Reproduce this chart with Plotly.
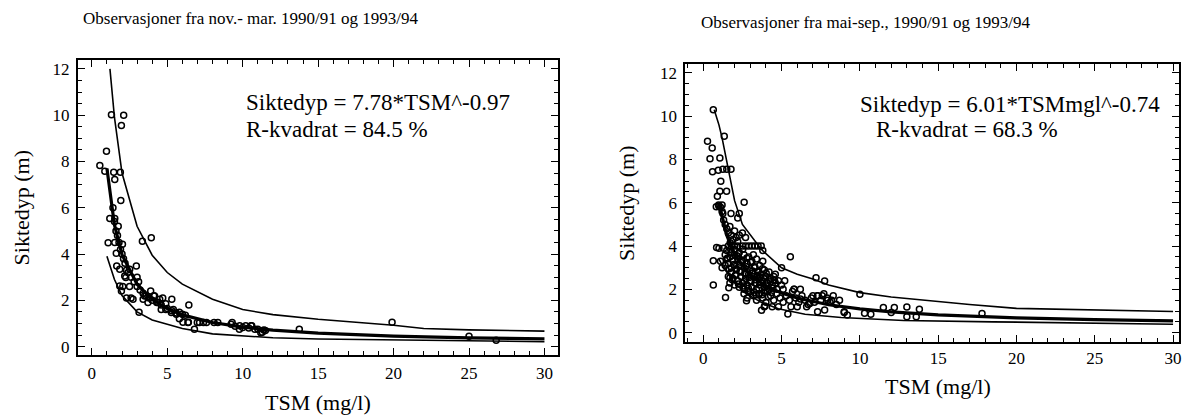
import plotly.graph_objects as go

W, H = 1188, 416

# ---------------- Left panel (nov.-mar.) ----------------
left_x = [0.53, 0.97, 0.86, 1.30, 2.11, 1.96, 1.45, 1.52, 1.89, 1.92, 1.19, 1.52, 1.08, 1.52,
          2.03, 1.62, 1.65, 1.85, 2.18, 2.51, 2.95, 3.0, 1.85, 2.05, 2.5, 1.96, 2.3, 2.6, 3.13,
          3.35, 3.94, 3.1, 3.5, 3.9, 4.1, 4.37, 4.7, 4.9, 5.3, 5.8, 6.43, 4.6, 4.9, 5.4, 5.8,
          6.04, 6.4, 6.8, 7.14, 7.6, 8.35, 9.3, 9.8, 10.2, 10.6, 10.8, 11.3, 11.5, 2.25, 2.73,
          3.4, 3.72, 4.16, 4.5, 5.27, 5.6, 6.37, 6.99, 7.4, 8.1, 9.23, 9.78, 10.55, 11.0, 11.2,
          11.4, 13.75, 19.9, 25.0, 26.8,
          1.4, 1.5, 1.6, 1.7, 1.75, 1.8, 1.9, 2.0, 2.1, 2.2, 2.3, 2.4, 2.6, 2.8, 3.0, 3.2, 3.4,
          3.6, 3.8, 4.0, 4.3, 4.6, 5.0, 5.3, 5.6, 6.0, 6.2, 9.5, 10.0, 10.4]
left_y = [7.82, 8.44, 7.58, 10.02, 10.0, 9.55, 7.53, 7.22, 7.53, 6.31, 5.54, 5.54, 4.49, 4.5,
          4.42, 4.03, 3.48, 3.34, 3.05, 3.34, 3.48, 3.0, 2.62, 2.6, 2.6, 2.4, 2.1, 2.1, 1.48,
          4.55, 4.7, 2.8, 2.19, 2.4, 2.2, 1.92, 2.1, 1.85, 2.05, 1.48, 1.8, 1.6, 1.6, 1.6, 1.2,
          1.05, 1.05, 0.75, 1.04, 1.04, 1.04, 1.04, 0.9, 0.9, 0.9, 0.75, 0.62, 0.7, 2.98, 2.05,
          2.05, 1.9, 2.19, 2.05, 1.47, 1.4, 1.04, 1.04, 1.04, 1.04, 0.97, 0.75, 0.9, 0.75, 0.6,
          0.72, 0.75, 1.05, 0.45, 0.27,
          6.0, 5.4, 5.0, 4.8, 5.2, 4.5, 4.2, 4.0, 3.8, 3.6, 3.3, 3.2, 3.0, 2.8, 2.6, 2.45, 2.3,
          2.2, 2.1, 2.0, 1.9, 1.8, 1.65, 1.55, 1.45, 1.4, 1.35, 0.88, 0.82, 0.8]

left_fit_x = [1.0, 1.5, 2.0, 3.0, 4.0, 5.0, 6.0, 8.0, 10.0, 12.0, 15.0, 20.0, 25.0, 30.0]
left_fit_y = [7.7, 5.26, 3.97, 2.69, 2.03, 1.64, 1.37, 1.04, 0.84, 0.71, 0.58, 0.45, 0.38, 0.33]

left_up_x = [1.2, 1.5, 2.0, 3.0, 4.0, 5.0, 6.0, 8.0, 10.0, 12.0, 15.0, 18.0, 20.0, 22.0, 25.0, 30.0]
left_up_y = [12.0, 9.9, 7.5, 5.2, 3.95, 3.2, 2.7, 2.05, 1.6, 1.38, 1.18, 1.02, 0.92, 0.78, 0.72, 0.67]

left_lo_x = [1.0, 1.5, 2.0, 3.0, 4.0, 5.0, 6.0, 8.0, 10.0, 12.0, 15.0, 20.0, 25.0, 30.0]
left_lo_y = [3.9, 2.9, 2.2, 1.5, 1.15, 0.95, 0.78, 0.55, 0.45, 0.38, 0.33, 0.28, 0.24, 0.21]

# ---------------- Right panel (mai-sep.) ----------------
right_x = [0.64, 0.27, 0.57, 0.43, 1.06, 1.34, 0.59, 0.96, 1.25, 1.5, 1.77, 1.12, 1.06, 1.49,
           0.9, 0.98, 1.2, 1.77, 2.3, 2.61, 2.2, 0.83, 0.85, 0.64, 0.64, 1.42, 1.7, 5.56, 5.0,
           7.2, 7.75, 10.0, 9.0, 9.2, 10.3, 10.7, 11.5, 12.2, 12.0, 13.0, 13.0, 13.8, 13.6, 17.8,
           2.76, 3.72, 3.93, 4.55, 5.4, 5.8, 6.2, 7.0, 7.3, 7.6, 6.8, 7.3, 7.75, 7.95, 8.2, 9.0,
           1.63,
           1.6, 1.8, 2.0, 2.2, 2.5, 2.7, 2.9, 3.1, 3.3, 3.5, 3.7, 3.8,
           1.3, 1.4, 1.5, 1.6, 1.7, 1.8, 1.9, 2.0, 2.1, 2.3, 2.5, 2.7, 2.2, 1.2, 1.1, 1.0, 1.25,
           1.3, 1.4, 1.5, 1.5, 1.6, 1.7, 1.8, 1.8, 1.9, 2.0, 2.0, 2.1, 2.2, 2.3, 2.3, 2.4, 2.5,
           2.6, 2.6, 2.7, 2.8, 2.9, 3.0, 3.1, 3.2, 3.3, 3.4, 3.5, 3.6, 3.8, 1.1, 1.2, 1.0, 1.4,
           1.6, 1.7, 1.8, 1.9, 2.0, 2.1, 2.2, 2.3, 2.4, 2.5, 2.6, 2.7, 2.8, 2.9, 3.0, 3.1, 3.2,
           3.3, 3.4, 3.5, 3.6, 3.7, 3.8, 3.9, 4.0, 4.1, 4.2, 4.3, 4.4, 4.5, 4.6, 4.7, 4.8, 5.0,
           5.1, 4.2, 3.9, 4.6, 5.2,
           2.6, 2.8, 3.0, 3.2, 3.4, 3.6, 3.8, 4.0, 4.1, 4.3, 4.5, 4.7, 4.9, 5.1, 5.3, 5.5, 5.7,
           5.9, 6.1, 6.3, 6.5, 6.7, 6.9, 7.1, 7.3, 7.5, 7.7, 7.9, 8.1, 8.3, 8.5, 8.7, 6.0, 6.6,
           4.4, 4.8, 5.6, 3.9, 5.8, 6.2,
           1.55, 1.65, 1.75, 1.85, 1.95, 2.05, 2.15, 2.25, 2.35, 2.45, 2.55, 2.65, 2.75, 2.85,
           2.95, 3.05, 3.15, 3.25, 3.35, 3.45, 3.55, 3.65, 3.75, 3.85, 3.95, 4.05, 4.15, 4.25,
           4.35, 4.45, 2.12, 2.38, 2.62, 2.88, 3.12, 3.38, 3.62, 3.88, 1.72, 1.98, 2.24, 2.52,
           2.78, 3.02, 3.28, 3.52, 3.78, 4.02, 4.28, 4.52]
right_y = [10.3, 8.84, 8.53, 8.04, 8.07, 9.07, 7.43, 7.5, 7.55, 7.55, 7.55, 6.99, 6.53, 6.53,
           6.3, 5.9, 5.9, 5.5, 5.5, 6.03, 5.3, 5.82, 3.93, 3.32, 2.2, 1.62, 2.54, 3.51, 3.0,
           2.54, 2.39, 1.77, 0.93, 0.82, 0.9, 0.85, 1.16, 1.16, 0.93, 1.19, 0.73, 1.08, 0.73, 0.88,
           1.47, 1.04, 1.23, 2.4, 0.86, 2.0, 1.55, 1.7, 1.7, 1.7, 1.35, 0.97, 1.05, 1.5, 1.5, 0.97,
           2.08,
           4.0, 4.0, 4.0, 4.0, 4.0, 4.0, 4.0, 4.0, 4.0, 4.0, 4.0, 3.8,
           5.2, 5.0, 4.8, 4.6, 4.9, 4.5, 4.3, 4.7, 4.4, 4.5, 4.6, 4.4, 4.2, 5.6, 5.8, 5.85, 5.5,
           3.9, 3.6, 3.4, 3.8, 3.2, 3.5, 3.0, 3.7, 3.3, 3.1, 3.6, 2.9, 3.4, 3.1, 3.7, 2.8, 3.3,
           3.0, 3.6, 2.7, 3.2, 3.5, 2.9, 3.3, 3.6, 3.0, 3.4, 2.8, 3.1, 3.3, 3.3, 3.0, 3.9, 3.1,
           2.6, 2.3, 2.8, 2.5, 2.2, 2.7, 2.4, 2.1, 2.6, 2.3, 2.0, 2.5, 2.2, 2.7, 2.4, 2.1, 2.6,
           2.3, 2.0, 2.5, 2.2, 2.7, 2.4, 2.1, 2.6, 2.3, 2.0, 2.5, 2.2, 2.6, 2.3, 2.0, 2.4, 2.2,
           2.0, 2.8, 2.9, 2.7, 2.4,
           1.8, 1.6, 1.9, 1.7, 1.5, 1.8, 1.6, 1.4, 1.9, 1.7, 1.5, 1.8, 1.6, 1.4, 1.7, 1.5, 1.9,
           1.6, 1.4, 1.7, 1.5, 1.3, 1.6, 1.4, 1.7, 1.5, 1.8, 1.6, 1.4, 1.7, 1.3, 1.5, 1.2, 1.2,
           1.2, 1.2, 1.2, 1.2, 2.0, 2.0,
           3.45, 2.95, 3.85, 2.45, 3.15, 2.65, 3.55, 2.25, 2.85, 3.35, 2.15, 2.75, 3.05, 1.95,
           2.55, 2.35, 2.85, 1.85, 2.45, 2.65, 2.05, 2.35, 1.75, 2.55, 1.95, 2.15, 1.65, 2.45,
           1.85, 2.05, 2.95, 3.25, 2.35, 2.05, 2.75, 1.75, 2.55, 1.85, 4.15, 3.85, 3.65, 3.85,
           3.45, 3.25, 3.05, 2.85, 2.95, 2.75, 2.35, 2.45]

right_fit_x = [1.0, 1.5, 2.0, 3.0, 4.0, 5.0, 6.0, 8.0, 10.0, 12.0, 15.0, 18.0, 20.0, 25.0, 30.0]
right_fit_y = [6.0, 4.5, 3.6, 2.65, 2.15, 1.83, 1.6, 1.29, 1.1, 0.96, 0.82, 0.74, 0.68, 0.6, 0.54]

right_up_x = [0.7, 1.0, 1.2, 1.5, 1.7, 2.0, 2.5, 3.0, 3.7, 4.0, 5.0, 6.0, 7.0, 8.0, 10.0, 12.0,
              14.0, 17.0, 20.0, 25.0, 30.0]
right_up_y = [10.3, 9.6, 9.0, 7.9, 7.1, 6.1, 5.0, 4.5, 3.85, 3.65, 3.0, 2.7, 2.48, 2.2, 1.85,
              1.65, 1.5, 1.3, 1.12, 1.05, 0.98]

right_lo_x = [1.0, 1.3, 1.6, 2.0, 2.65, 3.7, 4.8, 6.5, 8.8, 12.8, 18.5, 25.0, 30.0]
right_lo_y = [3.4, 3.0, 2.7, 2.3, 1.85, 1.4, 1.1, 0.85, 0.7, 0.56, 0.5, 0.43, 0.39]

titles = ["Observasjoner fra nov.- mar. 1990/91 og 1993/94",
          "Observasjoner fra mai-sep., 1990/91 og 1993/94"]
eq_texts = ["Siktedyp = 7.78*TSM^-0.97", "Siktedyp = 6.01*TSMmgl^-0.74"]
r2_texts = ["R-kvadrat = 84.5 %", "R-kvadrat = 68.3 %"]
x_title = "TSM (mg/l)"
y_title = "Siktedyp (m)"

FONT = "Liberation Serif, Times New Roman, Times, DejaVu Serif, serif"

fig = go.Figure()

def add_panel(xs, ys, fx, fy, ux, uy, lx, ly, xa, ya):
    fig.add_trace(go.Scatter(x=ux, y=uy, mode="lines", line=dict(color="black", width=1.6),
                             xaxis=xa, yaxis=ya, showlegend=False, hoverinfo="skip"))
    fig.add_trace(go.Scatter(x=lx, y=ly, mode="lines", line=dict(color="black", width=1.6),
                             xaxis=xa, yaxis=ya, showlegend=False, hoverinfo="skip"))
    fig.add_trace(go.Scatter(x=xs, y=ys, mode="markers",
                             marker=dict(symbol="circle-open", size=6, color="black",
                                         line=dict(width=1.5, color="black")),
                             xaxis=xa, yaxis=ya, showlegend=False))
    fig.add_trace(go.Scatter(x=fx, y=fy, mode="lines", line=dict(color="black", width=3.2),
                             xaxis=xa, yaxis=ya, showlegend=False, hoverinfo="skip"))

add_panel(left_x, left_y, left_fit_x, left_fit_y, left_up_x, left_up_y, left_lo_x, left_lo_y, "x", "y")
add_panel(right_x, right_y, right_fit_x, right_fit_y, right_up_x, right_up_y, right_lo_x, right_lo_y, "x2", "y2")

def px(x):
    return x / W

def py(y):
    return 1 - y / H

def xaxis_cfg(dom, rng, anchor, standoff):
    return dict(domain=dom, range=rng, anchor=anchor, tick0=0, dtick=5,
                ticks="inside", ticklen=7, tickwidth=1.3, tickcolor="black",
                minor=dict(dtick=1, ticks="inside", ticklen=4, tickwidth=1, tickcolor="black"),
                showline=True, linewidth=1.8, linecolor="black", mirror="ticks",
                showgrid=False, zeroline=False, ticklabelstandoff=standoff,
                tickfont=dict(family=FONT, size=17, color="black"))

def yaxis_cfg(dom, rng, anchor):
    return dict(domain=dom, range=rng, anchor=anchor, tick0=0, dtick=2,
                ticks="inside", ticklen=7, tickwidth=1.3, tickcolor="black",
                minor=dict(dtick=0.5, ticks="inside", ticklen=4, tickwidth=1, tickcolor="black"),
                showline=True, linewidth=1.8, linecolor="black", mirror="ticks",
                showgrid=False, zeroline=False, ticklabelstandoff=3,
                tickfont=dict(family=FONT, size=17, color="black"))

fig.update_layout(
    width=W, height=H, margin=dict(l=0, r=0, t=0, b=0),
    paper_bgcolor="white", plot_bgcolor="white", showlegend=False,
    font=dict(family=FONT, color="black"),
    xaxis=xaxis_cfg([px(78), px(559)], [-0.93, 30.87], "y", 2),
    yaxis=yaxis_cfg([py(356), py(60)], [-0.37, 12.39], "x"),
    xaxis2=xaxis_cfg([px(687), px(1182)], [-1.15, 30.38], "y2", 0),
    yaxis2=yaxis_cfg([py(343), py(64)], [-0.44, 12.42], "x2"),
)

ann = []
def text(x, y, s, size, xanchor="left", angle=0):
    ann.append(dict(x=px(x), y=py(y), xref="paper", yref="paper", text=s, showarrow=False,
                    xanchor=xanchor, yanchor="middle", textangle=angle,
                    font=dict(family=FONT, size=size, color="black")))

text(81, 19, titles[0], 17)
text(701, 23, titles[1], 17)
text(245, 103, eq_texts[0], 23)
text(245, 130, r2_texts[0], 23)
text(860, 105, eq_texts[1], 23)
text(876, 130, r2_texts[1], 23)
text(319, 403, x_title, 22, "center")
text(940, 387, x_title, 22, "center")
text(22, 208, y_title, 22, "center", -90)
text(628, 203, y_title, 22, "center", -90)
fig.update_layout(annotations=ann)

fig.write_html("out.html", config={"displayModeBar": False},
               post_script="document.body.style.margin='0px';document.body.style.padding='0px';")
